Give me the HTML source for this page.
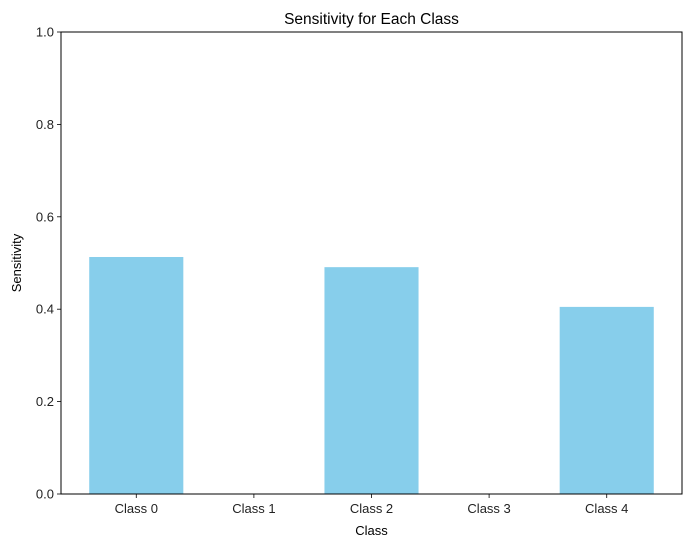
<!DOCTYPE html>
<html><head><meta charset="utf-8"><style>body{margin:0;background:#fff}svg{display:block;font-family:"Liberation Sans","DejaVu Sans",sans-serif}</style></head>
<body>
<svg id="chart" width="691" height="547"></svg>
<script>
const categories = ["Class 0","Class 1","Class 2","Class 3","Class 4"];
const sensitivity = [0.513, 0, 0.491, 0, 0.405];
const yTicks = [0, 0.2, 0.4, 0.6, 0.8, 1.0];
const yTickLabels = ["0.0","0.2","0.4","0.6","0.8","1.0"];

const L=61, R=682, T=32, B=494;
const xMin=-0.64, xMax=categories.length-1+0.64;
const xs = v => L + (v - xMin)/(xMax - xMin)*(R-L);
const ys = v => B - v*(B-T);
const NS="http://www.w3.org/2000/svg";
const svg=document.getElementById('chart');
function mk(tag, attrs, parent){const e=document.createElementNS(NS,tag);for(const k in attrs)e.setAttribute(k,attrs[k]);(parent||svg).appendChild(e);return e;}

const bw = 0.8*(xs(1)-xs(0));
categories.forEach((c,i)=>{
  const v=sensitivity[i];
  const r=mk('rect',{x:xs(i)-bw/2,y:ys(v),width:bw,height:B-ys(v),fill:'#87ceeb'});
  
  
  const t=mk('line',{x1:xs(i),x2:xs(i),y1:B,y2:B+4,stroke:'#000','stroke-width':0.8});
  
  
  const lb=mk('text',{x:xs(i),y:B+19,'text-anchor':'middle','font-size':13,fill:'#222'});
  lb.textContent=c;
  
  
});
yTicks.forEach((v,i)=>{
  const t=mk('line',{x1:L-4,x2:L,y1:ys(v),y2:ys(v),stroke:'#000','stroke-width':0.8});
  
  
  const lb=mk('text',{x:L-7,y:ys(v)+4.5,'text-anchor':'end','font-size':13,fill:'#222'});
  lb.textContent=yTickLabels[i];
  
  
});
const fr=mk('rect',{x:L,y:T,width:R-L,height:B-T,fill:'none',stroke:'#000','stroke-width':1});


const ti=mk('text',{x:(L+R)/2,y:T-8,'text-anchor':'middle','font-size':15.5,fill:'#000'});
ti.textContent='Sensitivity for Each Class';


const xt=mk('text',{x:(L+R)/2,y:535,'text-anchor':'middle','font-size':13,fill:'#000'});
xt.textContent='Class';


const yt=mk('text',{x:21,y:(T+B)/2,'text-anchor':'middle','font-size':13,fill:'#000',transform:'rotate(-90 21 '+((T+B)/2)+')'});
yt.textContent='Sensitivity';


</script>
</body></html>
